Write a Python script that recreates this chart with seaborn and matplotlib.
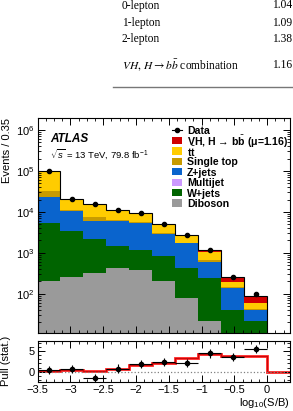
import numpy as np
import pandas as pd
import seaborn as sns
from matplotlib import pyplot as plt
from matplotlib.lines import Line2D
from matplotlib.patches import Rectangle
from matplotlib.ticker import MultipleLocator, LogLocator, NullFormatter, FuncFormatter

# binning in log10(S/B)
edges = [round(-3.5 + 0.35 * i, 3) for i in range(12)]
centers = [(a + b) / 2 for a, b in zip(edges[:-1], edges[1:])]
centers_stack = centers[:10]

processes = ["VH", "tt", "Single top", "Z+jets", "Multijet", "W+jets", "Diboson"]
colors = ["#d00000", "#ffcc00", "#c89b00", "#0a64cd", "#cc99ff", "#006400", "#9a9a9a"]

vh = [30, 40, 60, 80, 100, 80, 60, 150, 59, 27]
ttbar = [67900, 9000, 8100, 4600, 3800, 1850, 900, 350, 46, 17]
single_top = [9400, 700, 1500, 350, 200, 100, 50, 70, 11, 3]
zjets = [17140, 7040, 3700, 4400, 4100, 2120, 1277, 358, 94, 18]
multijet = [0, 0, 0, 0, 0, 0, 0, 0, 0, 0]
wjets = [5260, 3100, 1880, 1047, 815, 630, 343, 221, 37, 21]
diboson = [200, 257, 320, 413, 385, 200, 80, 21, 3, 1]

data = [98000, 20500, 15700, 11000, 9400, 4950, 2700, 1170, 250, 100]

# pull panel
pull_data = [0.42, 0.58, -1.5, 0.75, 1.83, 2.25, 2.1, 4.4, 3.6, 5.4]
pull_signal = [0.2, 0.45, 0.2, 0.7, 1.6, 2.1, 3.2, 4.35, 3.75, 3.75, 0.0]

df = pd.DataFrame({
    "x": np.tile(centers_stack, len(processes)),
    "w": vh + ttbar + single_top + zjets + multijet + wjets + diboson,
    "process": np.repeat(processes, len(centers_stack)),
})

plt.rcParams["font.family"] = ["Liberation Sans", "DejaVu Sans"]
plt.rcParams["mathtext.fontset"] = "custom"
plt.rcParams["mathtext.rm"] = "Liberation Sans"
plt.rcParams["mathtext.it"] = "Liberation Sans:italic"
plt.rcParams["mathtext.bf"] = "Liberation Sans:bold"

fig = plt.figure(figsize=(2.93, 4.11), dpi=100)
ax = fig.add_axes([0.128, 0.19, 0.862, 0.5236])
axp = fig.add_axes([0.128, 0.0706, 0.862, 0.1005])

sns.histplot(data=df, x="x", weights="w", hue="process", hue_order=processes,
             palette=dict(zip(processes, colors)), multiple="stack", bins=edges[:11],
             element="bars", linewidth=0, alpha=1, legend=False, ax=ax)
ax.set_yscale("log")

total = np.sum([vh, ttbar, single_top, zjets, multijet, wjets, diboson], axis=0)
ax.stairs(total, edges[:11], color="black", linewidth=0.8)
ax.errorbar(centers_stack, data, yerr=np.sqrt(data), fmt="o", color="black",
            markersize=3, elinewidth=0.8, capsize=0)

ax.set_xlim(-3.5, 0.35)
ax.set_ylim(11, 2e6)
ax.set_xlabel("")
ax.set_ylabel("Events / 0.35", loc="top", fontsize=8)
ax.yaxis.set_label_coords(-0.1, 1.0)
ax.tick_params(labelbottom=False)

# legend, drawn row by row
legend_labels = ["Data", r"VH, H → b$\bar{\mathbf{b}}$ (μ=1.16)", r"t$\bar{\mathbf{t}}$", "Single top",
                 "Z+jets", "Multijet", "W+jets", "Diboson"]
row_y = [0.943 - 0.0485 * i for i in range(len(legend_labels))]
ax.plot([0.533, 0.572], [row_y[0]] * 2, color="black", linewidth=0.8, transform=ax.transAxes)
ax.plot([0.5525], [row_y[0]], "o", color="black", markersize=3, transform=ax.transAxes)
for lab, c, yy in zip(legend_labels[1:], colors, row_y[1:]):
    ax.add_patch(Rectangle((0.533, yy - 0.017), 0.039, 0.034, facecolor=c,
                           edgecolor="none", transform=ax.transAxes))
for lab, yy in zip(legend_labels, row_y):
    ax.text(0.592, yy, lab, transform=ax.transAxes, fontsize=7.6, fontweight="bold",
            va="center_baseline")

ax.text(0.05, 0.9, "ATLAS", transform=ax.transAxes, fontsize=8.5,
        fontweight="bold", fontstyle="italic", va="center")
ax.text(0.05, 0.83, r"$\sqrt{s}$ = 13 TeV, 79.8 fb$^{-1}$", transform=ax.transAxes,
        fontsize=6.8, va="center")

# pull panel
axp.axhline(0, color="grey", linestyle=":", linewidth=0.9)
axp.stairs(pull_signal, edges, color="#ff2020", linewidth=2.0, baseline=None)
axp.stairs(pull_signal, edges, color="#b00000", linewidth=0.5, baseline=None)
axp.errorbar(centers_stack, pull_data, yerr=1, xerr=0.175, fmt="o", color="black",
             markersize=3, elinewidth=0.8, capsize=0)
axp.set_xlim(-3.5, 0.35)
axp.set_ylim(-2.5, 7.5)
axp.set_ylabel("Pull (stat.)", fontsize=8)
axp.yaxis.set_label_coords(-0.103, 0.5)
axp.set_xlabel(r"log$_{10}$(S/B)", loc="right", fontsize=8, labelpad=1)
axp.yaxis.set_major_locator(MultipleLocator(5))
axp.yaxis.set_minor_locator(MultipleLocator(1))
axp.xaxis.set_major_formatter(FuncFormatter(lambda v, p: f"{v:g}".replace("-", "−")))

for a in (ax, axp):
    a.xaxis.set_major_locator(MultipleLocator(0.5))
    a.xaxis.set_minor_locator(MultipleLocator(0.125))
    a.tick_params(which="both", direction="in", top=True, right=True, labelsize=8, pad=2)
    a.tick_params(which="major", length=5, width=0.7)
    a.tick_params(which="minor", length=2.5, width=0.6)
    for s in a.spines.values():
        s.set_linewidth(0.8)
ax.yaxis.set_major_locator(LogLocator(base=10, numticks=10))
ax.yaxis.set_minor_locator(LogLocator(base=10, subs=np.arange(2, 10), numticks=20))
ax.yaxis.set_minor_formatter(NullFormatter())

# table snippet above the plot
rows = ["0-lepton", "1-lepton", "2-lepton"]
row_vals = ["1.04", "1.09", "1.38"]
table_y = [405.5, 387.8, 371.8]
for r, v, yy in zip(rows, row_vals, table_y):
    fig.text(122 / 293, yy / 411, r, fontsize=8.3, family="Liberation Serif", va="center")
    fig.text(272 / 293, yy / 411, v, fontsize=8.3, family="Liberation Serif", va="center")
fig.text(122 / 293, 346 / 411, r"$VH,\, H \rightarrow b\bar{b}$ combination", fontsize=8.3,
         family="Liberation Serif", math_fontfamily="stix", va="center")
fig.text(272 / 293, 346 / 411, "1.16", fontsize=8.3, family="Liberation Serif", va="center")
fig.add_artist(Line2D([113 / 293, 1.0], [324 / 411, 324 / 411], color="#777777", linewidth=1.0))

fig.savefig("out.png", dpi=100)
